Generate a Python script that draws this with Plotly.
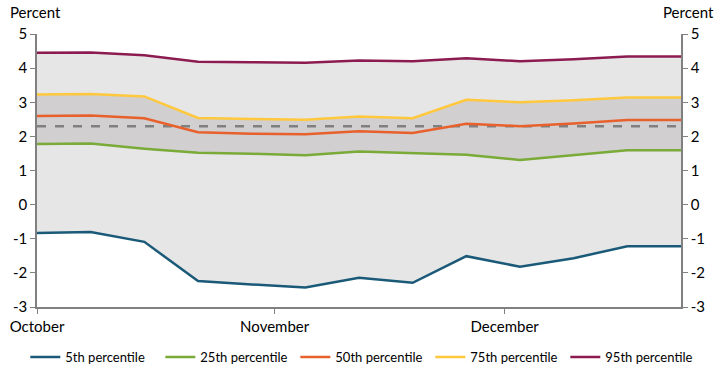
import plotly.graph_objects as go

dates = ["2023-10-01", "2023-10-08", "2023-10-15", "2023-10-22", "2023-10-29",
         "2023-11-05", "2023-11-12", "2023-11-19", "2023-11-26", "2023-12-03",
         "2023-12-10", "2023-12-17", "2023-12-24"]
p5 = [-0.83, -0.80, -1.09, -2.24, -2.34, -2.43, -2.14, -2.29, -1.51, -1.82, -1.57, -1.22, -1.22]
p25 = [1.78, 1.79, 1.64, 1.52, 1.49, 1.45, 1.56, 1.50, 1.46, 1.31, 1.44, 1.59, 1.59]
p50 = [2.60, 2.61, 2.53, 2.12, 2.08, 2.06, 2.15, 2.10, 2.37, 2.30, 2.38, 2.48, 2.48]
p75 = [3.23, 3.24, 3.17, 2.54, 2.51, 2.49, 2.58, 2.53, 3.07, 3.00, 3.06, 3.14, 3.14]
p95 = [4.45, 4.46, 4.38, 4.19, 4.17, 4.16, 4.22, 4.20, 4.29, 4.20, 4.26, 4.34, 4.34]
target = 2.3
tick_dates = ["2023-10-01", "2023-11-01", "2023-12-01"]
tick_labels = ["October", "November", "December"]
y_ticks = [-3, -2, -1, 0, 1, 2, 3, 4, 5]
y_labels = ["-3", "-2", "-1", "0", "1", "2", "3", "4", "5"]

FONT = "Lato"
fig = go.Figure()

# shaded bands
fig.add_trace(go.Scatter(x=dates, y=p5, mode="lines", line=dict(width=0), showlegend=False, hoverinfo="skip"))
fig.add_trace(go.Scatter(x=dates, y=p95, mode="lines", line=dict(width=0), fill="tonexty",
                         fillcolor="#E6E6E6", showlegend=False, hoverinfo="skip"))
fig.add_trace(go.Scatter(x=dates, y=p25, mode="lines", line=dict(width=0), showlegend=False, hoverinfo="skip"))
fig.add_trace(go.Scatter(x=dates, y=p75, mode="lines", line=dict(width=0), fill="tonexty",
                         fillcolor="#D1CFD0", showlegend=False, hoverinfo="skip"))

# dashed reference line
fig.add_trace(go.Scatter(x=[dates[0], dates[-1]], y=[target, target], mode="lines",
                         line=dict(color="#808080", width=2.5, dash="dash"), showlegend=False, hoverinfo="skip"))

series = [("5th percentile", p5, "#1A5A78"),
          ("25th percentile", p25, "#7AAA38"),
          ("50th percentile", p50, "#E8602C"),
          ("75th percentile", p75, "#FFC83D"),
          ("95th percentile", p95, "#8C1B52")]
for name, vals, col in series:
    fig.add_trace(go.Scatter(x=dates, y=vals, mode="lines", name=name, line=dict(color=col, width=2.5)))

# invisible trace for right axis
fig.add_trace(go.Scatter(x=[dates[0]], y=[0], yaxis="y2", mode="markers", marker=dict(opacity=0),
                         showlegend=False, hoverinfo="skip"))

axis_font = dict(family=FONT, size=15, color="#000000")
yax = dict(range=[-3, 5], tickvals=y_ticks, ticktext=y_labels, showgrid=False, zeroline=False,
           showline=True, linecolor="#808080", linewidth=1.5, ticks="outside", ticklen=5,
           tickcolor="#808080", tickfont=axis_font, automargin=False)
fig.update_layout(
    width=725, height=372,
    margin=dict(l=37, r=44, t=34, b=65, autoexpand=False),
    paper_bgcolor="white", plot_bgcolor="white",
    font=dict(family=FONT, size=15, color="#000000"),
    xaxis=dict(type="date", range=[dates[0], dates[-1]], tickvals=tick_dates, ticktext=tick_labels,
               showgrid=False, zeroline=False, showline=True, linecolor="#808080", linewidth=1.5,
               ticks="outside", ticklen=5, tickcolor="#808080", tickfont=axis_font, automargin=False),
    yaxis=yax,
    yaxis2=dict(yax, overlaying="y", side="right"),
    legend=dict(orientation="h", traceorder="normal", x=1.03, xanchor="right",
                y=-0.183, yanchor="middle",
                font=dict(family=FONT, size=13), itemwidth=30, entrywidth=90,
                entrywidthmode="pixels"),
    annotations=[
        dict(text="Percent", xref="paper", yref="paper", x=-0.045, y=1.0, yshift=22, xanchor="left",
             yanchor="middle", showarrow=False, font=dict(family=FONT, size=15)),
        dict(text="Percent", xref="paper", yref="paper", x=1.055, y=1.0, yshift=22, xanchor="right",
             yanchor="middle", showarrow=False, font=dict(family=FONT, size=15)),
    ],
)

fig.write_html("out.html", config={"displayModeBar": False},
               post_script="document.body.style.margin='0px';")
